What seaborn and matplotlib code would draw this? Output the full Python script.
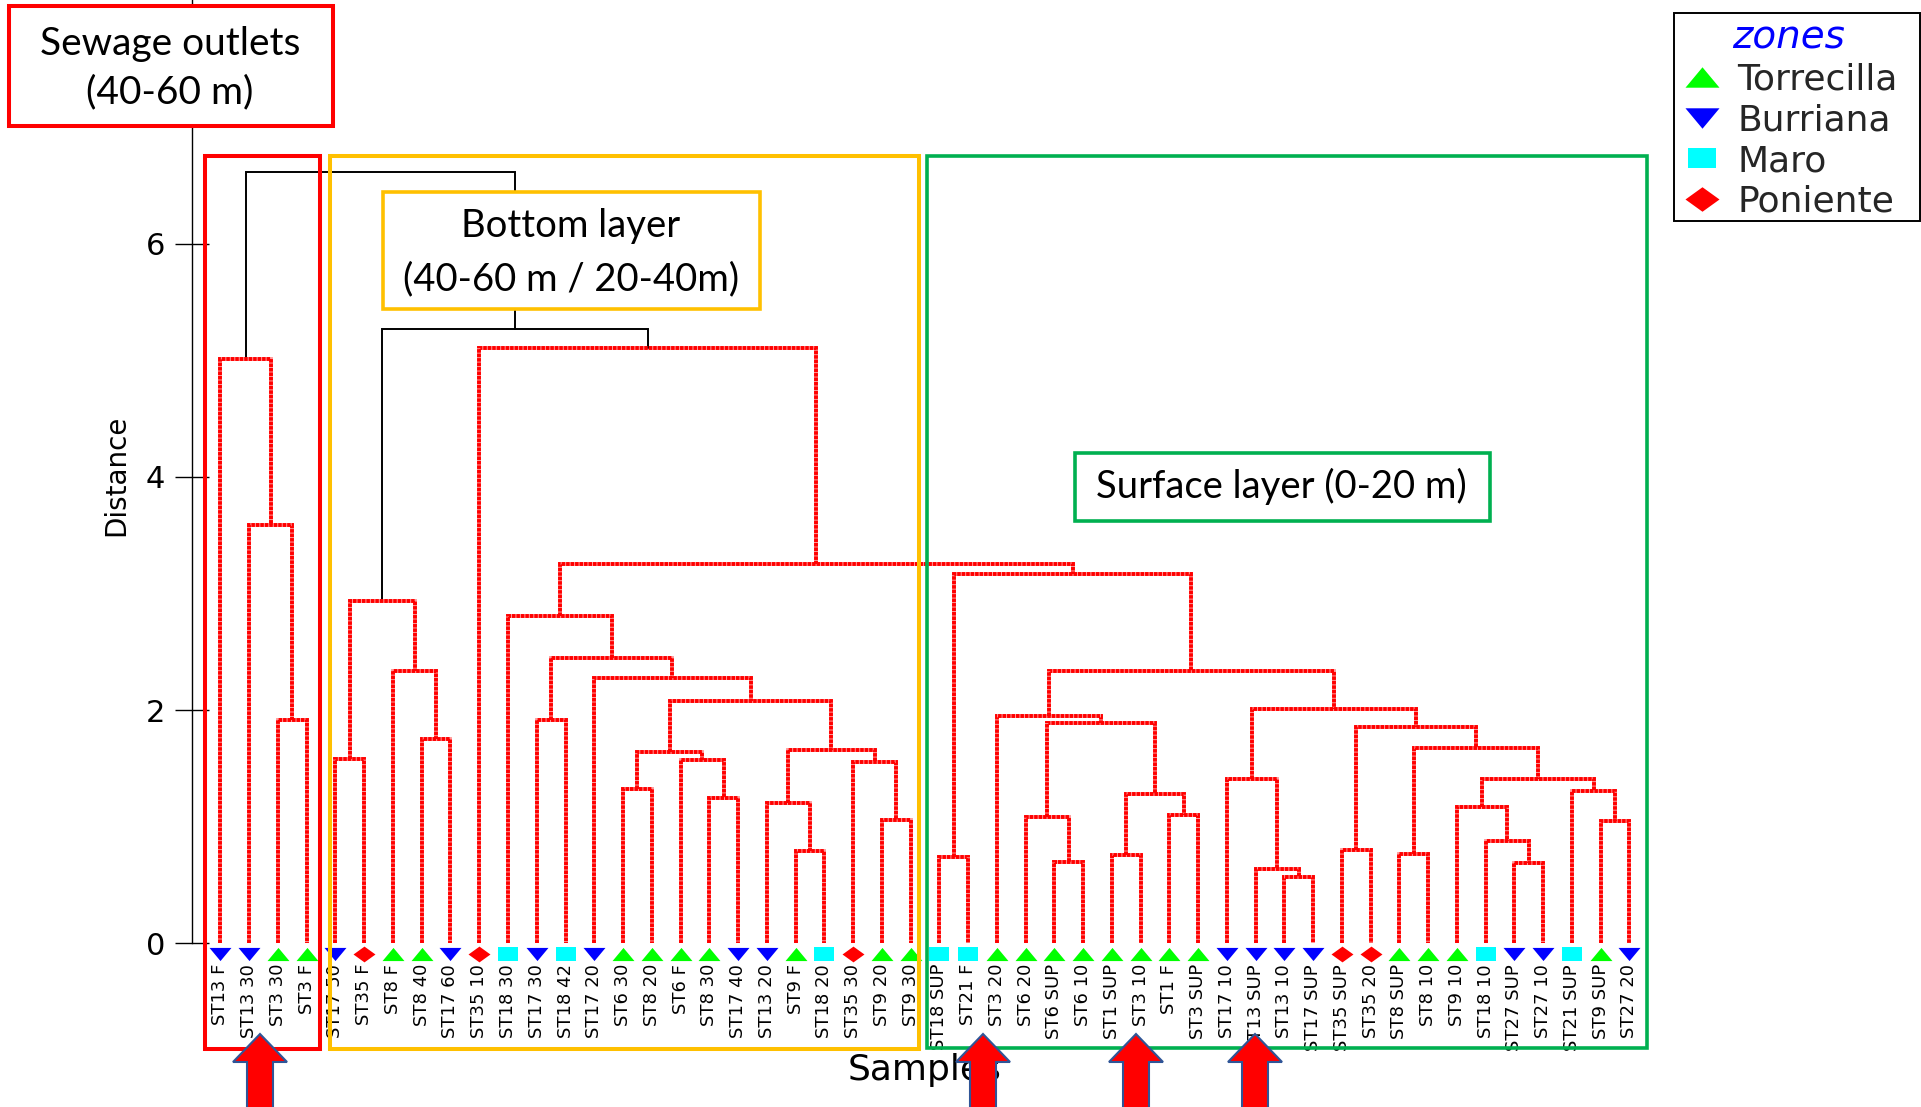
import numpy as np
import pandas as pd
import matplotlib
matplotlib.use("Agg")
import matplotlib.pyplot as plt
import seaborn as sns
from matplotlib.patches import Rectangle, Polygon
from matplotlib.lines import Line2D

# ---------------- data ----------------
samples = ["ST13 F", "ST13 30", "ST3 30", "ST3 F", "ST17 50", "ST35 F", "ST8 F", "ST8 40",
           "ST17 60", "ST35 10", "ST18 30", "ST17 30", "ST18 42", "ST17 20", "ST6 30", "ST8 20",
           "ST6 F", "ST8 30", "ST17 40", "ST13 20", "ST9 F", "ST18 20", "ST35 30", "ST9 20",
           "ST9 30", "ST18 SUP", "ST21 F", "ST3 20", "ST6 20", "ST6 SUP", "ST6 10", "ST1 SUP",
           "ST3 10", "ST1 F", "ST3 SUP", "ST17 10", "ST13 SUP", "ST13 10", "ST17 SUP",
           "ST35 SUP", "ST35 20", "ST8 SUP", "ST8 10", "ST9 10", "ST18 10", "ST27 SUP",
           "ST27 10", "ST21 SUP", "ST9 SUP", "ST27 20"]
zones = ["Burriana", "Burriana", "Torrecilla", "Torrecilla", "Burriana", "Poniente", "Torrecilla",
         "Torrecilla", "Burriana", "Poniente", "Maro", "Burriana", "Maro", "Burriana", "Torrecilla",
         "Torrecilla", "Torrecilla", "Torrecilla", "Burriana", "Burriana", "Torrecilla", "Maro",
         "Poniente", "Torrecilla", "Torrecilla", "Maro", "Maro", "Torrecilla", "Torrecilla",
         "Torrecilla", "Torrecilla", "Torrecilla", "Torrecilla", "Torrecilla", "Torrecilla",
         "Burriana", "Burriana", "Burriana", "Burriana", "Poniente", "Poniente", "Torrecilla",
         "Torrecilla", "Torrecilla", "Maro", "Burriana", "Burriana", "Maro", "Torrecilla", "Burriana"]

# linkage (leaves 0..49, merge k creates node 50+k)
link_left = [2, 1, 0, 4, 7, 6, 53, 11, 14, 17, 16, 58, 20, 19, 23, 22, 63, 61, 13, 57, 10,
             25, 29, 28, 31, 33, 74, 73, 27, 37, 36, 35, 39, 41, 45, 44, 43, 48, 47, 86, 83,
             82, 81, 78, 71, 70, 9, 56, 52]
link_right = [3, 50, 51, 5, 8, 54, 55, 12, 15, 18, 59, 60, 21, 62, 24, 64, 65, 66, 67, 68, 69,
              26, 30, 72, 32, 34, 75, 76, 77, 38, 79, 80, 40, 42, 46, 84, 85, 49, 87, 88, 89,
              90, 91, 92, 93, 94, 95, 96, 97]
link_height = [1.92, 3.59, 5.01, 1.58, 1.75, 2.34, 2.94, 1.92, 1.32, 1.25, 1.57, 1.64, 0.79,
               1.20, 1.06, 1.56, 1.66, 2.08, 2.28, 2.45, 2.81, 0.74, 0.70, 1.08, 0.76, 1.10,
               1.28, 1.89, 1.95, 0.57, 0.64, 1.41, 0.80, 0.77, 0.69, 0.88, 1.17, 1.05, 1.31,
               1.41, 1.68, 1.86, 2.01, 2.34, 3.17, 3.25, 5.11, 5.27, 6.62]
color_cut = 5.2

y_ticks = [0, 2, 4, 6]
zone_order = ["Torrecilla", "Burriana", "Maro", "Poniente"]

# ---------------- style ----------------
sns.set_theme(style="white")
plt.rcParams["font.family"] = ["DejaVu Sans"]

W, H = 1921, 1107
def fx(x):
    return x / W
def fy(y):
    return 1 - y / H

zone_colors = {"Torrecilla": "#00FF00", "Burriana": "#0000FF", "Maro": "#00FFFF", "Poniente": "#FF0000"}
zone_markers = {
    "Torrecilla": [(-1, -0.6), (1, -0.6), (0, 0.6)],
    "Burriana": [(-1, 0.6), (1, 0.6), (0, -0.6)],
    "Maro": [(-1, -0.72), (1, -0.72), (1, 0.72), (-1, 0.72)],
    "Poniente": [(-1, 0), (0, 0.72), (1, 0), (0, -0.72)],
}
chart_msize = {"Torrecilla": 15.8, "Burriana": 15.8, "Maro": 13.7, "Poniente": 15.8}
legend_msize = {"Torrecilla": 24.5, "Burriana": 24.5, "Maro": 20.2, "Poniente": 24.5}

fig = plt.figure(figsize=(W / 100, H / 100), dpi=100)
fig.patch.set_facecolor("white")
ax = fig.add_axes([191.7 / W, 1 - 943.4 / H, 1466.5 / W, 943.4 / H])
ax.set_facecolor("none")

n = len(samples)
leaf_x = np.arange(1, n + 1, dtype=float)

# ---------------- dendrogram ----------------
node_x = list(leaf_x)
node_y = [0.0] * n
for l, r, h in zip(link_left, link_right, link_height):
    xl, xr = node_x[l], node_x[r]
    yl, yr = node_y[l], node_y[r]
    xs = [xl, xl, xr, xr]
    ys = [yl, h, h, yr]
    if h > color_cut:
        ax.plot(xs, ys, color="black", lw=1.4, solid_joinstyle="miter", zorder=2)
    else:
        ax.plot(xs, ys, color="#FF9a9a", lw=2.8, solid_joinstyle="miter", zorder=2)
        ax.plot(xs, ys, color="#FF0000", lw=2.8, linestyle=(0, (0.9, 0.25)),
                dash_joinstyle="miter", dash_capstyle="butt", zorder=2.1)
    node_x.append((xl + xr) / 2)
    node_y.append(h)

# ---------------- leaf markers ----------------
df = pd.DataFrame({"sample": samples, "zone": zones, "x": leaf_x})
df["y"] = -0.09
for z in zone_order:
    sub = df[df["zone"] == z]
    sns.scatterplot(data=sub, x="x", y="y", marker=zone_markers[z], s=chart_msize[z] ** 2,
                    color=zone_colors[z], linewidth=0, clip_on=False, zorder=5, ax=ax,
                    legend=False)

# ---------------- axes ----------------
ax.set_xlim(0, n + 1)
ax.set_ylim(0, 943.4 / 116.6)
ax.set_xticks(leaf_x)
ax.set_xticklabels(samples, rotation=90, fontsize=13, color="black")
ax.tick_params(axis="x", length=0, pad=14.8)
ax.set_yticks(y_ticks)
ax.set_yticklabels([str(t) for t in y_ticks], fontsize=22, color="black")
ax.tick_params(axis="y", direction="inout", length=25, width=1.0, color="black", pad=6.8, left=True)
for s in ["top", "right", "bottom"]:
    ax.spines[s].set_visible(False)
ax.spines["left"].set_color("black")
ax.spines["left"].set_linewidth(1.0)

ax.set_ylabel("Distance", fontsize=20, color="black")
ax.yaxis.set_label_coords(-0.042, 0.4965)
ax.set_xlabel("Samples", fontsize=26, color="black")
ax.xaxis.set_label_coords(0.5, -0.116)

# ---------------- group rectangles ----------------
def add_rect(x0, y0, x1, y1, ec, lw, fc="none", z=3):
    r = Rectangle((fx(x0), fy(y1)), (x1 - x0) / W, (y1 - y0) / H, transform=fig.transFigure,
                  facecolor=fc, edgecolor=ec, linewidth=lw, zorder=z, joinstyle="miter")
    fig.add_artist(r)

add_rect(205, 156, 320, 1049, "#FF0000", 2.9)
add_rect(330, 156, 919, 1049, "#FFC000", 2.9)
add_rect(927, 156, 1647, 1048, "#00B050", 2.6)

# text boxes
box_font = "Lato"
add_rect(9, 6, 333, 126, "#FF0000", 2.9, fc="white", z=6)
fig.text(fx(170), fy(55), "Sewage outlets", ha="center", va="baseline", fontsize=28,
         family=box_font, color="black", zorder=7)
fig.text(fx(170), fy(103), "(40-60 m)", ha="center", va="baseline", fontsize=28,
         family=box_font, color="black", zorder=7)

add_rect(383, 192, 760, 309, "#FFC000", 2.6, fc="white", z=6)
fig.text(fx(571), fy(237), "Bottom layer", ha="center", va="baseline", fontsize=27.5,
         family=box_font, color="black", zorder=7)
fig.text(fx(571), fy(290), "(40-60 m / 20-40m)", ha="center", va="baseline", fontsize=27.5,
         family=box_font, color="black", zorder=7)

add_rect(1075, 453, 1490, 521, "#00B050", 2.6, fc="white", z=6)
fig.text(fx(1281), fy(498), "Surface layer (0-20 m)", ha="center", va="baseline", fontsize=27.5,
         family=box_font, color="black", zorder=7)

# ---------------- red arrows ----------------
for cx in [260, 983, 1136, 1255]:
    pts = [(cx, 1034), (cx + 27, 1062), (cx + 13, 1062), (cx + 13, 1120),
           (cx - 13, 1120), (cx - 13, 1062), (cx - 27, 1062)]
    poly = Polygon([(fx(a), fy(b)) for a, b in pts], closed=True, transform=fig.transFigure,
                   facecolor="#FF0000", edgecolor="#2F5597", linewidth=1.5, zorder=8,
                   joinstyle="miter")
    fig.add_artist(poly)

# ---------------- legend ----------------
handles = [Line2D([0], [0], marker=zone_markers[z], color=zone_colors[z], linestyle="None",
                  markersize=legend_msize[z], markeredgewidth=0) for z in zone_order]
leg = fig.legend(handles, zone_order, title="zones", loc="upper left",
                 bbox_to_anchor=(fx(1680), fy(18.5)), bbox_transform=fig.transFigure,
                 frameon=False, fontsize=26, borderpad=0, borderaxespad=0,
                 handlelength=1.2, handletextpad=0.38, labelspacing=0.18,
                 title_fontproperties={"size": 28, "style": "italic"})
leg.get_title().set_color("#0000FF")
leg.set_zorder(9)
add_rect(1674, 13, 1920, 221, "black", 1.4, fc="none", z=9)

fig.savefig("out.png", dpi=100, facecolor="white")
